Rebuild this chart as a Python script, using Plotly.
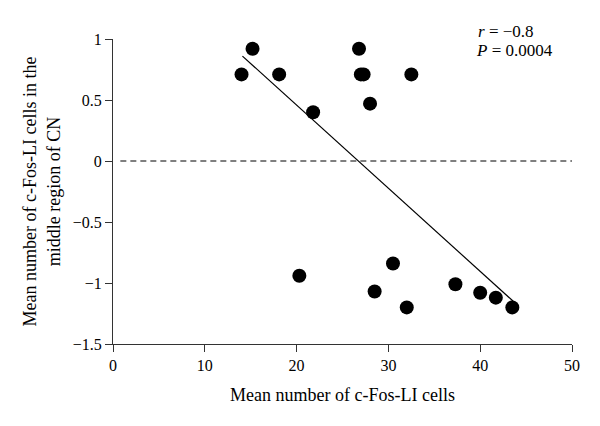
import plotly.graph_objects as go

x_vals = [14.0, 15.2, 18.1, 21.8, 26.8, 27.0, 27.3, 28.0, 32.5,
          20.3, 28.5, 30.5, 32.0, 37.3, 40.0, 41.7, 43.5]
y_vals = [0.71, 0.92, 0.71, 0.40, 0.92, 0.71, 0.71, 0.47, 0.71,
          -0.94, -1.07, -0.84, -1.20, -1.01, -1.08, -1.12, -1.20]
fit_x = [14.1, 43.6]
fit_y = [0.86, -1.15]
zero_x = [0.8, 50.5]
zero_y = [0, 0]

font_family = "Liberation Serif, Times New Roman, serif"

fig = go.Figure()
fig.add_trace(go.Scatter(x=zero_x, y=zero_y, mode="lines",
                         line=dict(color="black", width=1.2, dash="6px,4px"),
                         hoverinfo="skip", cliponaxis=False))
fig.add_trace(go.Scatter(x=fit_x, y=fit_y, mode="lines",
                         line=dict(color="black", width=1.2), cliponaxis=False))
fig.add_trace(go.Scatter(x=x_vals, y=y_vals, mode="markers",
                         marker=dict(color="black", size=14), cliponaxis=False))

fig.update_layout(
    width=600, height=426,
    margin=dict(l=113, r=28, t=39, b=82),
    plot_bgcolor="white", paper_bgcolor="white",
    showlegend=False,
    font=dict(family=font_family, size=16, color="black"),
    xaxis=dict(range=[0, 50], tickvals=[0, 10, 20, 30, 40, 50],
               showgrid=False, zeroline=False, showline=True,
               linecolor="#333", linewidth=1.2, ticks="outside",
               ticklen=7, tickcolor="#333", tickwidth=1.2,
               tickfont=dict(size=16),
               title=dict(text="Mean number of c-Fos-LI cells", standoff=15,
                          font=dict(size=18))),
    yaxis=dict(range=[-1.5, 1], tickvals=[-1.5, -1, -0.5, 0, 0.5, 1],
               ticktext=["−1.5", "−1", "−0.5", "0", "0.5", "1"],
               showgrid=False, zeroline=False, showline=True,
               linecolor="#333", linewidth=1.2, ticks="outside",
               ticklen=7, tickcolor="#333", tickwidth=1.2,
               tickfont=dict(size=16),
               title=dict(text="Mean number of c-Fos-LI cells in the<br>middle region of CN",
                          standoff=7, font=dict(size=18))),
)
fig.layout.annotations = [
    dict(x=(476 - 113) / 459, y=(344 - 31) / 305, xref="paper", yref="paper",
         showarrow=False, text="<i>r</i> = −0.8", xanchor="left",
         yanchor="middle", font=dict(size=17)),
    dict(x=(474 - 113) / 459, y=(344 - 50) / 305, xref="paper", yref="paper",
         showarrow=False, text="<i>P</i> = 0.0004", xanchor="left",
         yanchor="middle", font=dict(size=17)),
]

fig.write_html("out.html", config={"displayModeBar": False},
               post_script="document.body.style.margin='0';document.body.style.padding='0';")
